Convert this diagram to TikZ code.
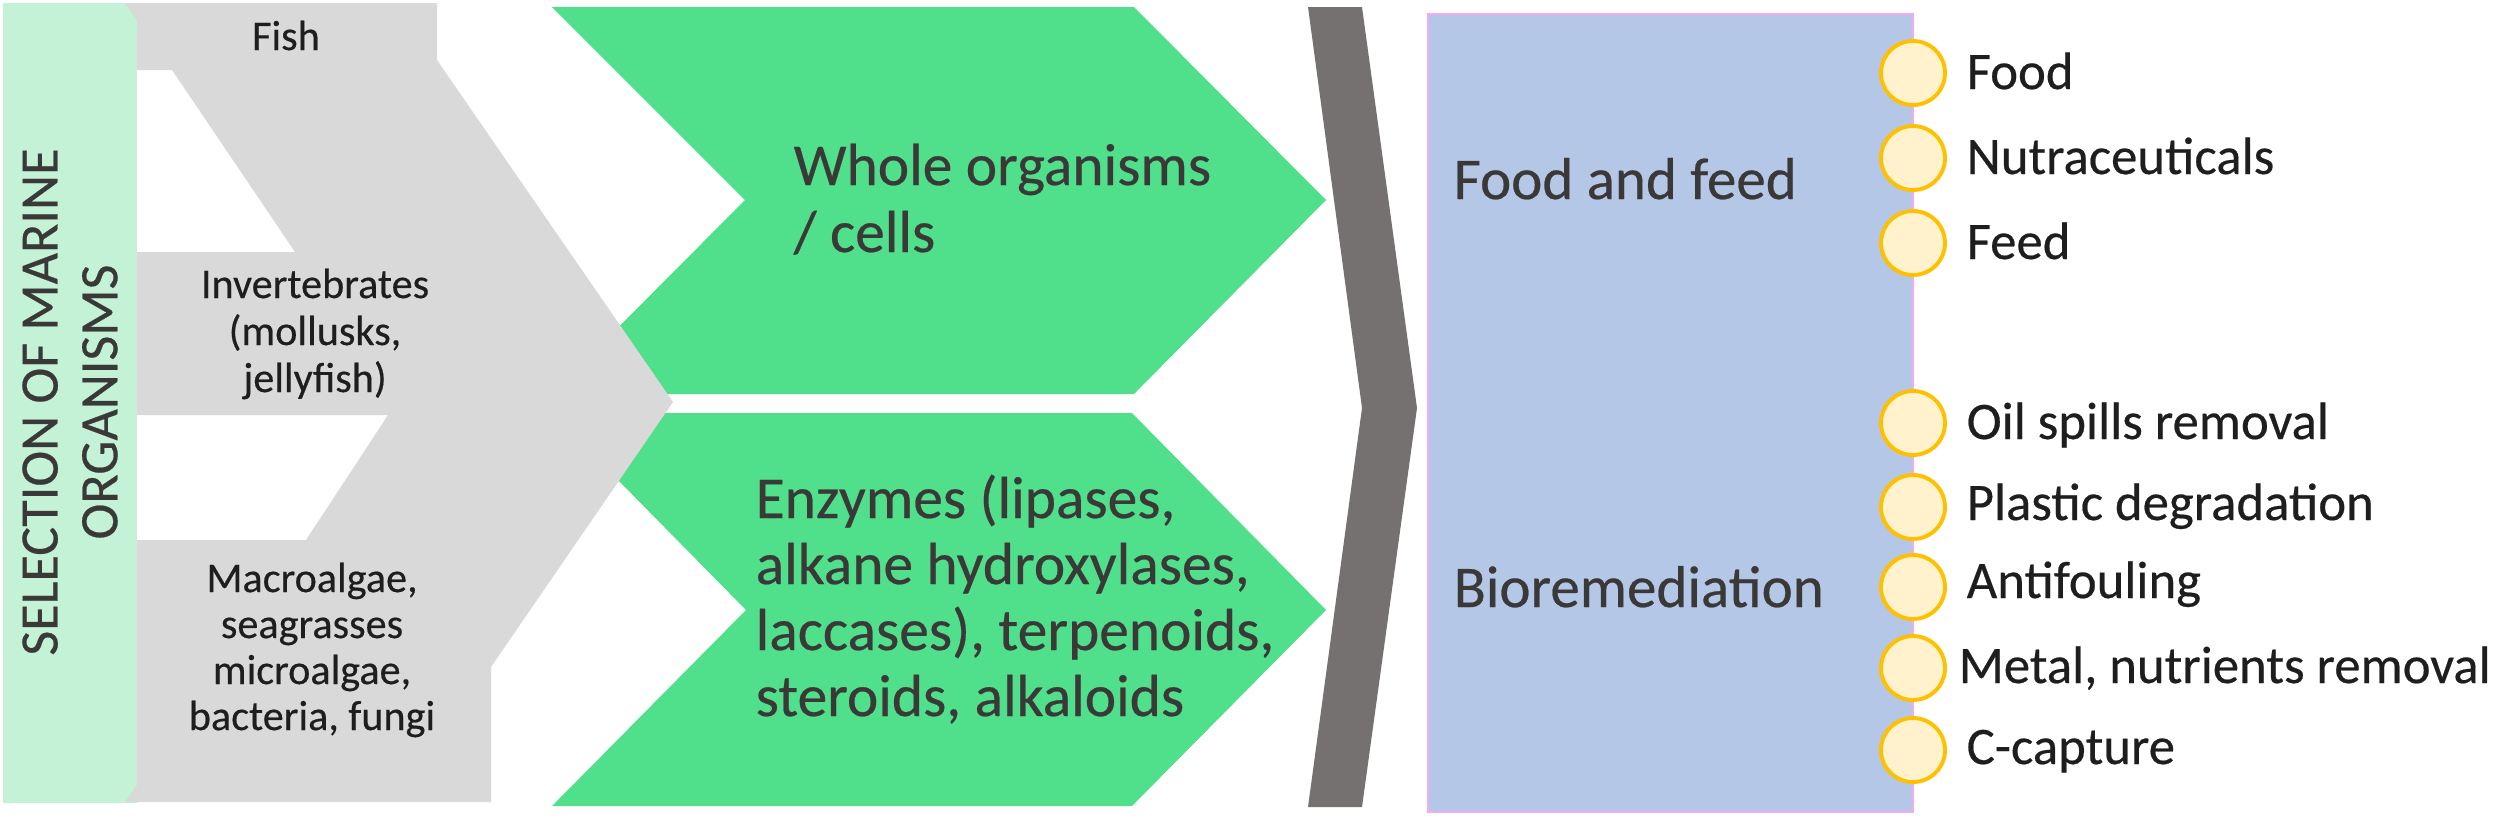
\documentclass[tikz,border=0pt]{standalone}
\usepackage{fontspec}
\setmainfont{Carlito}[FakeBold=0.4]
\definecolor{barmint}{RGB}{195,242,214}
\definecolor{shapegray}{RGB}{217,217,217}
\definecolor{chevgreen}{RGB}{80,223,138}
\definecolor{brackgray}{RGB}{118,113,113}
\definecolor{boxblue}{RGB}{180,199,231}
\definecolor{boxpink}{RGB}{244,170,240}
\definecolor{circfill}{RGB}{255,242,204}
\definecolor{circdraw}{RGB}{255,192,0}
\definecolor{txtdark}{RGB}{59,56,56}
\definecolor{txtblack}{RGB}{30,30,30}
\tikzset{
  graytext/.style={text=txtblack, inner sep=0pt, anchor=base, font=\fontsize{12}{13}\selectfont},
  chevtext/.style={text=txtdark, inner sep=0pt, anchor=base west, font=\fontsize{16.9}{19}\selectfont},
  headtext/.style={text=txtdark, inner sep=0pt, anchor=base west, font=\fontsize{16.8}{19}\selectfont},
  labtext/.style={text=txtblack, inner sep=0pt, anchor=base west, font=\fontsize{15}{17}\selectfont},
  bullet/.style={circle, minimum size=64*0.01cm, inner sep=0pt, fill=circfill, draw=circdraw, line width=1.1pt},
}
\begin{document}
\begin{tikzpicture}[x=0.01cm, y=-0.01cm]
\useasboundingbox (0,0) rectangle (2500,817);
% left mint bar
\fill[barmint] (3,3) rectangle (137,803);
% green chevrons
\fill[chevgreen] (552,7) -- (1134,7) -- (1326,200) -- (1134,394) -- (552,394) -- (745,200) -- cycle;
\fill[chevgreen] (552,413) -- (1132,413) -- (1326,610) -- (1132,806) -- (552,806) -- (746,610) -- cycle;
% gray selection shape
\fill[shapegray] (125,3) -- (437,3) -- (437,60) -- (673,402) -- (491,667) -- (491,802) -- (125,802)
  -- (137,785) -- (137,540) -- (306,540) -- (388,415) -- (137,415) -- (137,252) -- (295,252)
  -- (172,70) -- (137,70) -- (137,20) -- cycle;
% dark bracket chevron
\fill[brackgray] (1308,7) -- (1362,7) -- (1417,408) -- (1362,807) -- (1308,807) -- (1362,408) -- cycle;
% blue box
\filldraw[fill=boxblue, draw=boxpink, line width=0.45pt] (1428,14) rectangle (1913,812);
% vertical title
\node[rotate=90, text=txtdark, align=center, inner sep=0pt,
  font=\fontsize{15.4}{17}\selectfont] (title) at (70,402) {SELECTION OF MARINE\\ORGANISMS};
% gray texts
\node[graytext] (fish) at (286,50) {Fish};
\node[graytext] (inv1) at (315,298) {Invertebrates};
\node[graytext] (inv2) at (315,345) {(mollusks,};
\node[graytext] (inv3) at (315,392) {jellyfish)};
\node[graytext] (mac1) at (312,592) {Macroalgae,};
\node[graytext] (mac2) at (312,638) {seagrasses};
\node[graytext] (mac3) at (312,684) {microalgae,};
\node[graytext] (mac4) at (312,730) {bacteria, fungi};
% chevron texts
\node[chevtext] (who1) at (793,185) {Whole organisms};
\node[chevtext] (who2) at (793,252) {/ cells};
\node[chevtext] (enz1) at (755,518) {Enzymes (lipases,};
\node[chevtext] (enz2) at (755,584) {alkane hydroxylases,};
\node[chevtext] (enz3) at (755,650) {laccases), terpenoids,};
\node[chevtext] (enz4) at (755,716) {steroids, alkaloids};
% headers
\node[headtext] (hfood) at (1453,199) {Food and feed};
\node[headtext] (hbio) at (1453,607) {Bioremediation};
% bullets and labels
\node[bullet] (c1) at (1913,73) {};
\node[bullet] (c2) at (1913,158) {};
\node[bullet] (c3) at (1913,243) {};
\node[bullet] (c4) at (1913,423) {};
\node[bullet] (c5) at (1913,507) {};
\node[bullet] (c6) at (1913,587) {};
\node[bullet] (c7) at (1913,668) {};
\node[bullet] (c8) at (1913,750) {};
\node[labtext] (l1) at (1966,89) {Food};
\node[labtext] (l2) at (1966,174) {Nutraceuticals};
\node[labtext] (l3) at (1966,259) {Feed};
\node[labtext] (l4) at (1966,439) {Oil spills removal};
\node[labtext] (l5) at (1966,520) {Plastic degradation};
\node[labtext] (l6) at (1966,598) {Antifouling};
\node[labtext] (l7) at (1958,683) {Metal, nutrients removal};
\node[labtext] (l8) at (1966,764) {C-capture};
\end{tikzpicture}
\end{document}
